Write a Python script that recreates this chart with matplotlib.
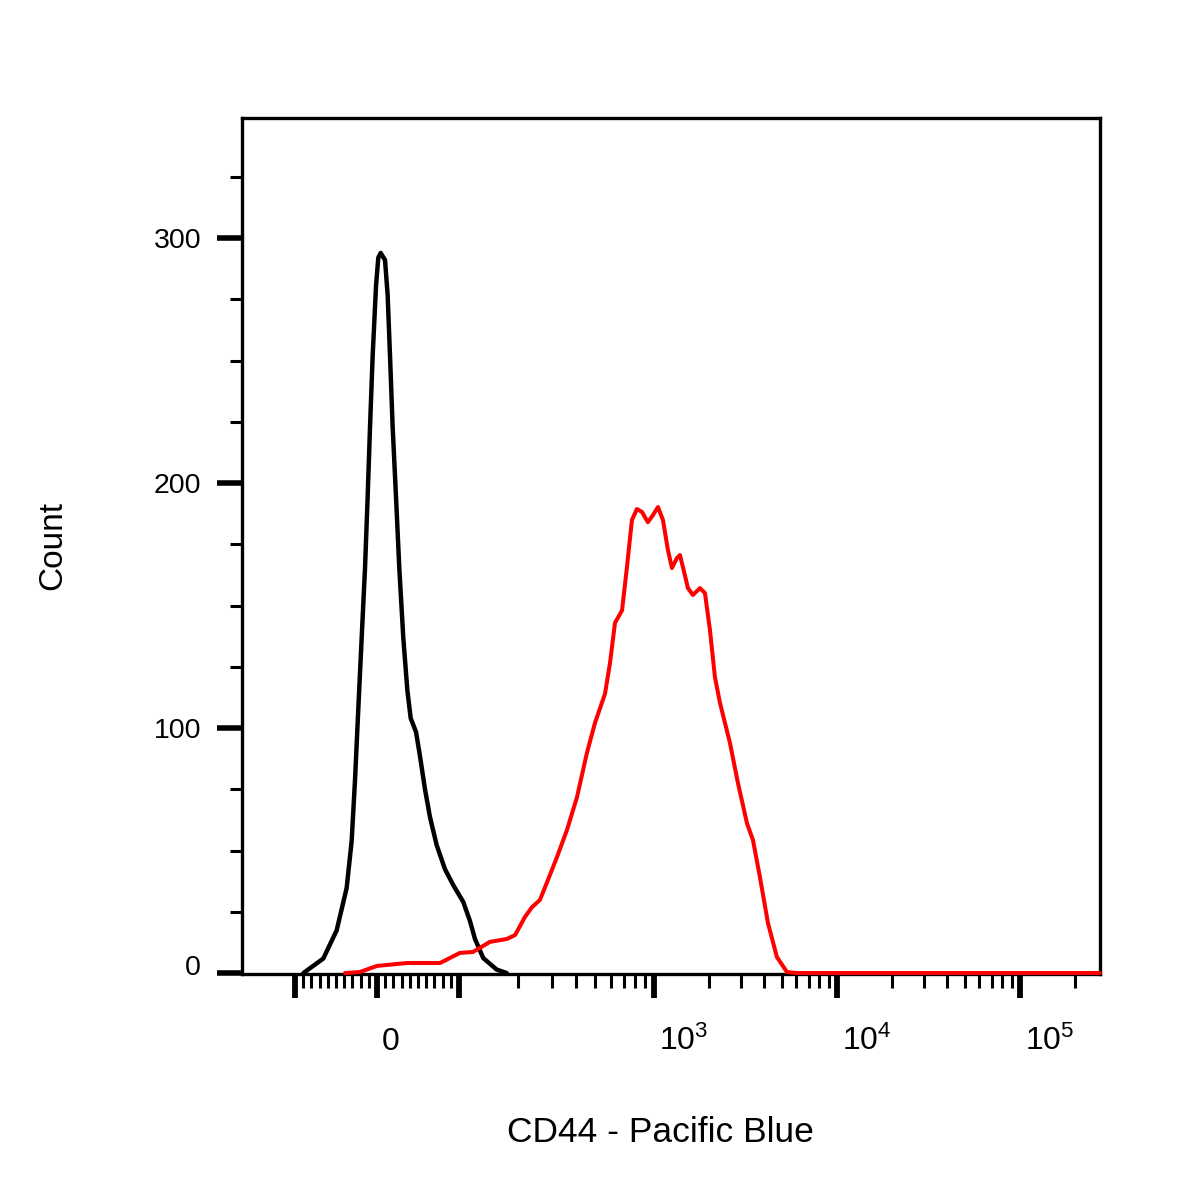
import matplotlib
matplotlib.use("Agg")
import matplotlib.pyplot as plt
import matplotlib.transforms as mtransforms
from matplotlib.ticker import MultipleLocator
import numpy as np

plt.rcParams['font.family'] = ['Liberation Sans', 'DejaVu Sans']
plt.rcParams['mathtext.fontset'] = 'custom'
plt.rcParams['mathtext.rm'] = 'Liberation Sans'
plt.rcParams['mathtext.it'] = 'Liberation Sans:italic'
plt.rcParams['mathtext.bf'] = 'Liberation Sans:bold'

# isotype / unstained control (black)
black_x = [-89.8, -65.5, -49.2, -37.0, -30.9, -26.8, -22.8, -18.7, -14.6, -11.4,
           -8.5, -5.3, -1.2, 1.6, 4.5, 9.8, 13.0, 15.9, 19.1, 23.2,
           27.2, 32.1, 37.0, 41.1, 47.6, 52.4, 58.5, 64.6, 72.8, 82.9,
           93.0, 105.2, 113.9, 120.8, 133.2, 156.1, 175.7]
black_count = [0, 5.9, 17.4, 34.7, 53.9, 78.8, 107.8, 136.7, 165.3, 194.3,
               222.9, 251.8, 280.4, 292.0, 293.9, 291.0, 276.7, 251.8, 222.9, 194.3,
               165.3, 136.7, 115.5, 104.0, 98.4, 88.6, 75.1, 63.7, 52.2, 42.4,
               35.9, 29.0, 21.2, 13.9, 6.1, 1.4, 0]

# CD44 stained sample (red)
red_x = [-39, -21, 0, 37, 77, 101, 118, 144, 176, 194,
         218, 237, 260, 286, 318, 358, 403, 453, 498, 561,
         595, 631, 686, 727, 771, 818, 868, 931, 988, 1052,
         1120, 1192, 1254, 1336, 1387, 1440, 1534, 1633, 1783, 1900,
         2023, 2154, 2296, 2602, 2877, 3222, 3475, 3794, 4198, 4699,
         5333, 6040, 274000]
red_count = [0, 0.4, 2.9, 4.1, 4.1, 8.2, 8.6, 12.7, 13.9, 15.5,
             22.9, 26.9, 29.8, 38.0, 47.3, 58.4, 71.8, 89.8, 102.0, 114.0,
             126.5, 142.9, 148.0, 165.7, 184.9, 189.4, 188.2, 184.0, 186.9, 190.2,
             184.9, 172.7, 165.3, 169.4, 170.6, 165.7, 157.1, 154.3, 157.1, 155.1,
             140.0, 120.8, 110.2, 93.9, 77.6, 61.2, 54.3, 39.2, 20.4, 6.5,
             0.4, 0, 0]

x_major = [-100, 0, 100, 1e3, 1e4, 1e5]
x_label_vals = [0, 1e3, 1e4, 1e5]
x_label_txt = ['0', r'$10^3$', r'$10^4$', r'$10^5$']
y_major = [0, 100, 200, 300]


# biexponential-like display: linear around zero, log beyond +/-100
def biex_fwd(x):
    x = np.asarray(x, dtype=float)
    a = np.abs(x)
    u = np.where(a <= 100, 0.82 * a,
                 np.where(a <= 1000,
                          82 + 195 * np.log10(np.maximum(a, 100) / 100),
                          277 + 183 * np.log10(np.maximum(a, 1000) / 1000)))
    return np.sign(x) * u


def biex_inv(u):
    u = np.asarray(u, dtype=float)
    b = np.abs(u)
    x = np.where(b <= 82, b / 0.82,
                 np.where(b <= 277,
                          100 * 10 ** ((np.minimum(b, 277) - 82) / 195),
                          1000 * 10 ** ((np.minimum(b, 2000) - 277) / 183)))
    return np.sign(u) * x


x_minor = [s * k for s in (-1, 1) for k in range(10, 100, 10)]
x_minor += [k * 10 ** d for d in (2, 3, 4) for k in range(2, 10)] + [2e5]

fig = plt.figure(figsize=(12, 12), dpi=100)
ax = fig.add_axes([242 / 1200, 1 - 974 / 1200, 858 / 1200, 856 / 1200])
ax.set_xscale('function', functions=(biex_fwd, biex_inv))

ax.plot(black_x, black_count, color='black', lw=3.2, clip_on=False, zorder=3,
        solid_joinstyle='round', solid_capstyle='round')
ax.plot(red_x, red_count, color='#ff0000', lw=2.9, clip_on=False, zorder=3,
        solid_joinstyle='round', solid_capstyle='round')

ax.set_xlim(-187, 2.74e5)
ax.set_ylim(-0.4, 349)

for sp in ax.spines.values():
    sp.set_linewidth(2.4)

ax.set_xticks(x_major)
ax.set_xticks(x_minor, minor=True)
ax.set_xticklabels([])
ax.tick_params(axis='x', which='major', length=17, width=4.2, direction='out')
ax.tick_params(axis='x', which='minor', length=10, width=2.2, direction='out')

ax.set_yticks(y_major)
ax.yaxis.set_minor_locator(MultipleLocator(25))
ax.tick_params(axis='y', which='major', length=18, width=4, direction='out',
               labelsize=20.5, pad=11.5)
ax.tick_params(axis='y', which='minor', length=9, width=2.2, direction='out')
ylabels = ax.get_yticklabels()
ylabels[0].set_transform(ylabels[0].get_transform() +
                         mtransforms.ScaledTranslation(0, 8 / 100, fig.dpi_scale_trans))

trans = mtransforms.blended_transform_factory(ax.transData, ax.transAxes) + \
    mtransforms.ScaledTranslation(5 / 100, 0, fig.dpi_scale_trans)
for v, t in zip(x_label_vals, x_label_txt):
    ax.text(v, -0.0888, t, transform=trans, ha='left', va='baseline', fontsize=23)

ax.set_xlabel('CD44 - Pacific Blue', fontsize=25.5)
ax.xaxis.set_label_coords(0.488, -0.166)
ax.set_ylabel('Count', fontsize=24)
ax.yaxis.set_label_coords(-0.203, 0.5)

fig.savefig('out.png', dpi=100)
